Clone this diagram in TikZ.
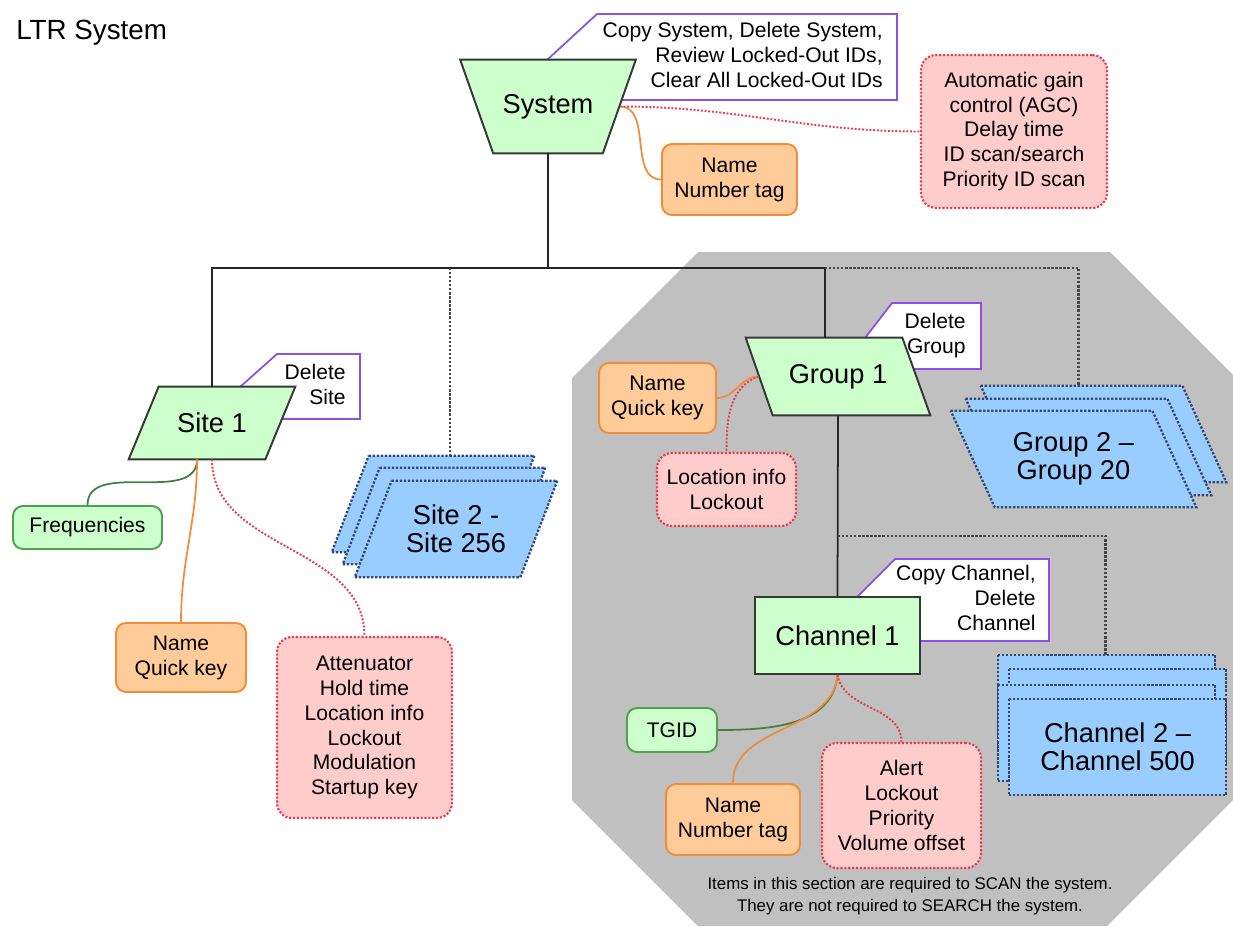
\documentclass[tikz,border=0pt]{standalone}
\usepackage{fontspec}
\setmainfont{Liberation Sans}
\usetikzlibrary{calc}

\definecolor{octgrey}{RGB}{192,192,192}
\definecolor{keyfill}{RGB}{204,255,204}
\definecolor{keyedge}{RGB}{55,55,55}
\definecolor{listedge}{RGB}{80,160,80}
\definecolor{namefill}{RGB}{255,204,153}
\definecolor{nameedge}{RGB}{240,140,60}
\definecolor{optfill}{RGB}{255,204,204}
\definecolor{optedge}{RGB}{230,60,80}
\definecolor{menuedge}{RGB}{140,80,230}
\definecolor{stackfill}{RGB}{153,204,255}
\definecolor{stackedge}{RGB}{50,70,110}
\definecolor{treedot}{RGB}{70,70,70}

\pgfdeclarelayer{back}
\pgfdeclarelayer{mid}
\pgfsetlayers{back,mid,main}

\tikzset{
  smalltxt/.style={font=\fontsize{12}{14.2}\selectfont,align=center,inner sep=0pt},
  bigtxt/.style={font=\fontsize{15.5}{16}\selectfont,align=center,inner sep=0pt},
  keyshape/.style={draw=keyedge,fill=keyfill,line width=1.1pt},
  stackshape/.style={draw=stackedge,fill=stackfill,line width=1.3pt,densely dotted},
  menushape/.style={draw=menuedge,fill=white,line width=1pt},
  namebox/.style={smalltxt,draw=nameedge,fill=namefill,line width=1.1pt,rounded corners=0.2cm},
  optbox/.style={smalltxt,draw=optedge,fill=optfill,line width=1.2pt,densely dotted,rounded corners=0.3cm},
  listbox/.style={smalltxt,draw=listedge,fill=keyfill,line width=1.1pt,rounded corners=0.2cm},
  treeline/.style={line width=1pt,black!85},
  treedots/.style={line width=1.3pt,treedot,densely dotted},
  toname/.style={line width=1pt,nameedge},
  tolist/.style={line width=1pt,listedge!80!black},
  toopt/.style={line width=1.1pt,optedge,densely dotted},
}

\begin{document}
\begin{tikzpicture}[x=0.02cm,y=-0.02cm]
\useasboundingbox (0,0) rectangle (1233,926);

\node[anchor=west,inner sep=0pt,font=\fontsize{15.8}{18}\selectfont] (title) at (16,33) {LTR System};

% main items
\node[bigtxt,minimum width=3.5cm,minimum height=1.86cm] (sys) at (548,106.5) {System};
\node[bigtxt,minimum width=3.32cm,minimum height=1.44cm] (site) at (212,423) {Site 1};
\node[bigtxt,minimum width=3.68cm,minimum height=1.54cm] (grp) at (838,376.5) {Group 1};
\node[bigtxt,keyshape,minimum width=3.3cm,minimum height=1.54cm] (chan) at (837.5,635.5) {Channel 1};

% stacks
\node[bigtxt,minimum width=4.04cm,minimum height=1.92cm] (sites) at (456,529) {Site 2 -\\Site 256};
\node[bigtxt,minimum width=4.9cm,minimum height=1.92cm] (groups) at (1073.5,459) {Group 2 --\\Group 20};
\node[bigtxt,minimum width=4.34cm,minimum height=1.92cm] (chans) at (1117.5,747) {Channel 2 --\\Channel 500};

% scan section and menus
\begin{pgfonlayer}{back}
\fill[octgrey] (698,252) -- (1110,252) -- (1233,375) -- (1233,800) -- (1107,926) -- (698,926) -- (572,800) -- (572,378) -- cycle;
\draw[menushape] (547,60) -- (597,14) -- (897,14) -- (897,100) -- (622,100) -- cycle;
\node[smalltxt,align=right,anchor=east] (sysmenu) at (883,55) {Copy System, Delete System,\\Review Locked-Out IDs,\\Clear All Locked-Out IDs};
\draw[menushape] (240,387) -- (277,354) -- (360,354) -- (360,419) -- (282,419) -- cycle;
\node[smalltxt,align=right,anchor=east] (sitemenu) at (346,384.5) {Delete\\Site};
\draw[menushape] (865,338) -- (892,303) -- (981,303) -- (981,369) -- (913,369) -- cycle;
\node[smalltxt,align=right,anchor=east] (grpmenu) at (966,335.5) {Delete\\Group};
\draw[menushape] (857,597) -- (895,559) -- (1049,559) -- (1049,641) -- (920,641) -- cycle;
\node[smalltxt,align=right,anchor=east] (chanmenu) at (1036,598) {Copy Channel,\\Delete\\Channel};
\end{pgfonlayer}

\begin{pgfonlayer}{mid}
\draw[keyshape] (sys.north west) -- (sys.north east) -- ($(sys.south east)+(-33,0)$) -- ($(sys.south west)+(33,0)$) -- cycle;
\draw[keyshape] ($(site.north west)+(30,0)$) -- (site.north east) -- ($(site.south east)+(-30,0)$) -- (site.south west) -- cycle;
\draw[keyshape] (grp.north west) -- ($(grp.north east)+(-28,0)$) -- (grp.south east) -- ($(grp.south west)+(27,0)$) -- cycle;
\foreach \dx/\dy in {-23/-25,-12/-13,0/0}
  \draw[stackshape] ($(sites.north west)+(37+\dx,\dy)$) -- ($(sites.north east)+(\dx,\dy)$) -- ($(sites.south east)+(-37+\dx,\dy)$) -- ($(sites.south west)+(\dx,\dy)$) -- cycle;
\foreach \dx/\dy in {30/-25,15/-12,0/0}
  \draw[stackshape] ($(groups.north west)+(\dx,\dy)$) -- ($(groups.north east)+(-44+\dx,\dy)$) -- ($(groups.south east)+(\dx,\dy)$) -- ($(groups.south west)+(44+\dx,\dy)$) -- cycle;
\foreach \dx/\dy in {-11/-44,0/-30,-11/-14,0/0}
  \draw[stackshape] ($(chans.north west)+(\dx,\dy)$) rectangle ($(chans.south east)+(\dx,\dy)$);
\end{pgfonlayer}

% tree
\coordinate (bus) at (548,268);
\coordinate (chbus) at (838,536);
\coordinate (grptop) at ($(grp.north)+(-13,0)$);
\coordinate (sitestop) at ($(sites.north)+(-6,-25)$);
\draw[treeline] (sys.south) -- (bus);
\draw[treeline] (site.north) |- (bus) -| (grptop);
\draw[treeline] (grp.south) -- (chan.north);
\draw[treedots] (sitestop |- bus) -- (sitestop);
\draw[treedots] (grptop |- bus) -| ($(groups.north)+(5,-25)$);
\draw[treedots] (chbus) -| ($(chans.north)+(-12,-44)$);

% settings
\node[namebox,minimum width=2.7cm,minimum height=1.42cm] (sysname) at (729.5,179.5) {Name\\Number tag};
\node[optbox,minimum width=3.72cm,minimum height=3.06cm] (sysopt) at (1014,131.5) {Automatic gain\\control (AGC)\\Delay time\\ID scan/search\\Priority ID scan};
\node[listbox,minimum width=2.98cm,minimum height=0.86cm] (freq) at (87.5,527.5) {Frequencies};
\node[namebox,minimum width=2.6cm,minimum height=1.38cm] (sitename) at (181,657.5) {Name\\Quick key};
\node[optbox,minimum width=3.5cm,minimum height=3.62cm] (siteopt) at (364.5,727.5) {Attenuator\\Hold time\\Location info\\Lockout\\Modulation\\Startup key};
\node[namebox,minimum width=2.34cm,minimum height=1.4cm] (grpname) at (657.5,398) {Name\\Quick key};
\node[optbox,minimum width=2.78cm,minimum height=1.46cm] (grpopt) at (726.5,489.5) {Location info\\Lockout};
\node[listbox,minimum width=1.8cm,minimum height=0.88cm] (tgid) at (672,730) {TGID};
\node[namebox,minimum width=2.68cm,minimum height=1.42cm] (chname) at (733,819.5) {Name\\Number tag};
\node[optbox,minimum width=3.18cm,minimum height=2.5cm] (chopt) at (901.5,805.5) {Alert\\Lockout\\Priority\\Volume offset};

\draw[toname] ($(sys.east)+(-16,0)$) to[out=0,in=180] (sysname.west);
\draw[toopt] ($(sys.east)+(-16,0)$) to[out=0,in=180] (sysopt.west);
\draw[tolist] ($(site.south)+(-15,0)$) to[out=-90,in=90] (freq.north);
\draw[toname] ($(site.south)+(-15,0)$) to[out=-90,in=90] (sitename.north);
\draw[toopt] (site.south) to[out=-90,in=90] (siteopt.north);
\draw[toname] ($(grp.west)+(13,0)$) to[out=180,in=0] (grpname.east);
\draw[toopt] ($(grp.west)+(13,0)$) to[out=200,in=90] (grpopt.north);
\draw[tolist] (chan.south) to[out=-95,in=0] (tgid.east);
\draw[toname] (chan.south) to[out=-95,in=90] (chname.north);
\draw[toopt] (chan.south) to[out=-80,in=90] (chopt.north);

\node[inner sep=0pt,align=center,font=\fontsize{9.6}{12.5}\selectfont] (note) at (910,896) {Items in this section are required to SCAN the system.\\They are not required to SEARCH the system.};
\end{tikzpicture}
\end{document}
